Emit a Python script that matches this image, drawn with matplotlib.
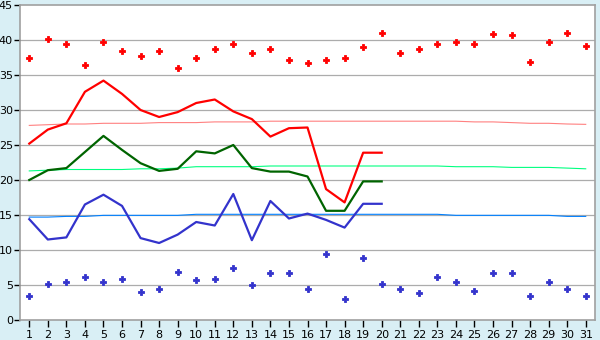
import matplotlib.pyplot as plt
import numpy as np

days = list(range(1, 32))

# daily observed values (first 20 days)
obs_max = [25.2, 27.2, 28.1, 32.6, 34.2, 32.3, 30.0, 29.0, 29.7, 31.0,
           31.5, 29.8, 28.7, 26.2, 27.4, 27.5, 18.7, 16.8, 23.9, 23.9]
obs_mean = [20.0, 21.4, 21.7, 24.0, 26.3, 24.3, 22.4, 21.3, 21.6, 24.1,
            23.8, 25.0, 21.7, 21.2, 21.2, 20.5, 15.6, 15.6, 19.8, 19.8]
obs_min = [14.4, 11.5, 11.8, 16.5, 17.9, 16.3, 11.7, 11.0, 12.2, 14.0,
           13.5, 18.0, 11.4, 17.0, 14.5, 15.2, 14.3, 13.2, 16.6, 16.6]

# normals
norm_max = [27.8, 27.9, 28.0, 28.0, 28.1, 28.1, 28.1, 28.2, 28.2, 28.2,
            28.3, 28.3, 28.3, 28.4, 28.4, 28.4, 28.4, 28.4, 28.4, 28.4,
            28.4, 28.4, 28.4, 28.4, 28.3, 28.3, 28.2, 28.1, 28.1, 28.0, 27.95]
norm_mean = [21.3, 21.4, 21.5, 21.5, 21.5, 21.5, 21.6, 21.6, 21.7, 21.9,
             21.9, 21.9, 21.9, 22.0, 22.0, 22.0, 22.0, 22.0, 22.0, 22.0,
             22.0, 22.0, 22.0, 21.9, 21.9, 21.9, 21.8, 21.8, 21.8, 21.7, 21.6]
norm_min = [14.7, 14.7, 14.8, 14.8, 14.95, 14.95, 14.95, 14.95, 14.95, 15.1,
            15.1, 15.1, 15.1, 15.1, 15.1, 15.1, 15.1, 15.1, 15.1, 15.1,
            15.1, 15.1, 15.1, 14.95, 14.95, 14.95, 14.95, 14.95, 14.95, 14.8, 14.8]

# records
rec_max = [37.4, 40.1, 39.5, 36.5, 39.7, 38.4, 37.7, 38.5, 36.0, 37.4,
           38.7, 39.5, 38.2, 38.7, 37.2, 36.7, 37.1, 37.5, 39.0, 41.0,
           38.1, 38.7, 39.4, 39.7, 39.5, 40.8, 40.7, 36.8, 39.7, 41.0, 39.2]
rec_min = [3.4, 5.2, 5.4, 6.1, 5.4, 5.8, 4.0, 4.4, 6.8, 5.7,
           5.8, 7.5, 4.95, 6.7, 6.7, 4.5, 9.4, 2.95, 8.8, 5.2,
           4.5, 3.8, 6.2, 5.4, 4.2, 6.7, 6.7, 3.4, 5.4, 4.5, 3.5]

bg = '#d9eff5'
grid = '#acacac'

fig = plt.figure(figsize=(6, 3.4), dpi=100, facecolor=bg)
ax = fig.add_axes([20/600, 20/340, 575/600, 315/340])
ax.set_facecolor('white')

for v in range(5, 45, 5):
    ax.axhline(v, color=grid, lw=0.9, zorder=1)

d20 = days[:20]
ax.plot(days, norm_max, color='#ff8080', lw=0.8, zorder=2)
ax.plot(days, norm_mean, color='#00ff80', lw=0.8, zorder=2)
ax.plot(days, norm_min, color='#0080ff', lw=0.8, zorder=2)

ax.plot(d20, obs_max, color='#ff0000', lw=1.6, zorder=3)
ax.plot(d20, obs_mean, color='#006400', lw=1.6, zorder=3)
ax.plot(d20, obs_min, color='#3333cc', lw=1.6, zorder=3)

# record markers: small fat plus
ax.plot(days, rec_max, 'P', color='#ff0000', ms=4.5, mew=0.6, ls='none', zorder=4)
ax.plot(days, rec_min, 'P', color='#3333cc', ms=4.5, mew=0.6, ls='none', zorder=4)

ax.set_xlim(0.5, 31.5)
ax.set_ylim(0, 45)
ax.set_xticks(days)
ax.set_yticks(range(0, 50, 5))
ax.tick_params(axis='x', length=5, width=1, color='#000000', labelsize=8, pad=2)
ax.tick_params(axis='y', length=4, width=1, color='#000000', labelsize=8, pad=1)
for s in ax.spines.values():
    s.set_color('#a0a0a0')
    s.set_linewidth(1.2)

fig.savefig('out.png', dpi=100, facecolor=bg)
